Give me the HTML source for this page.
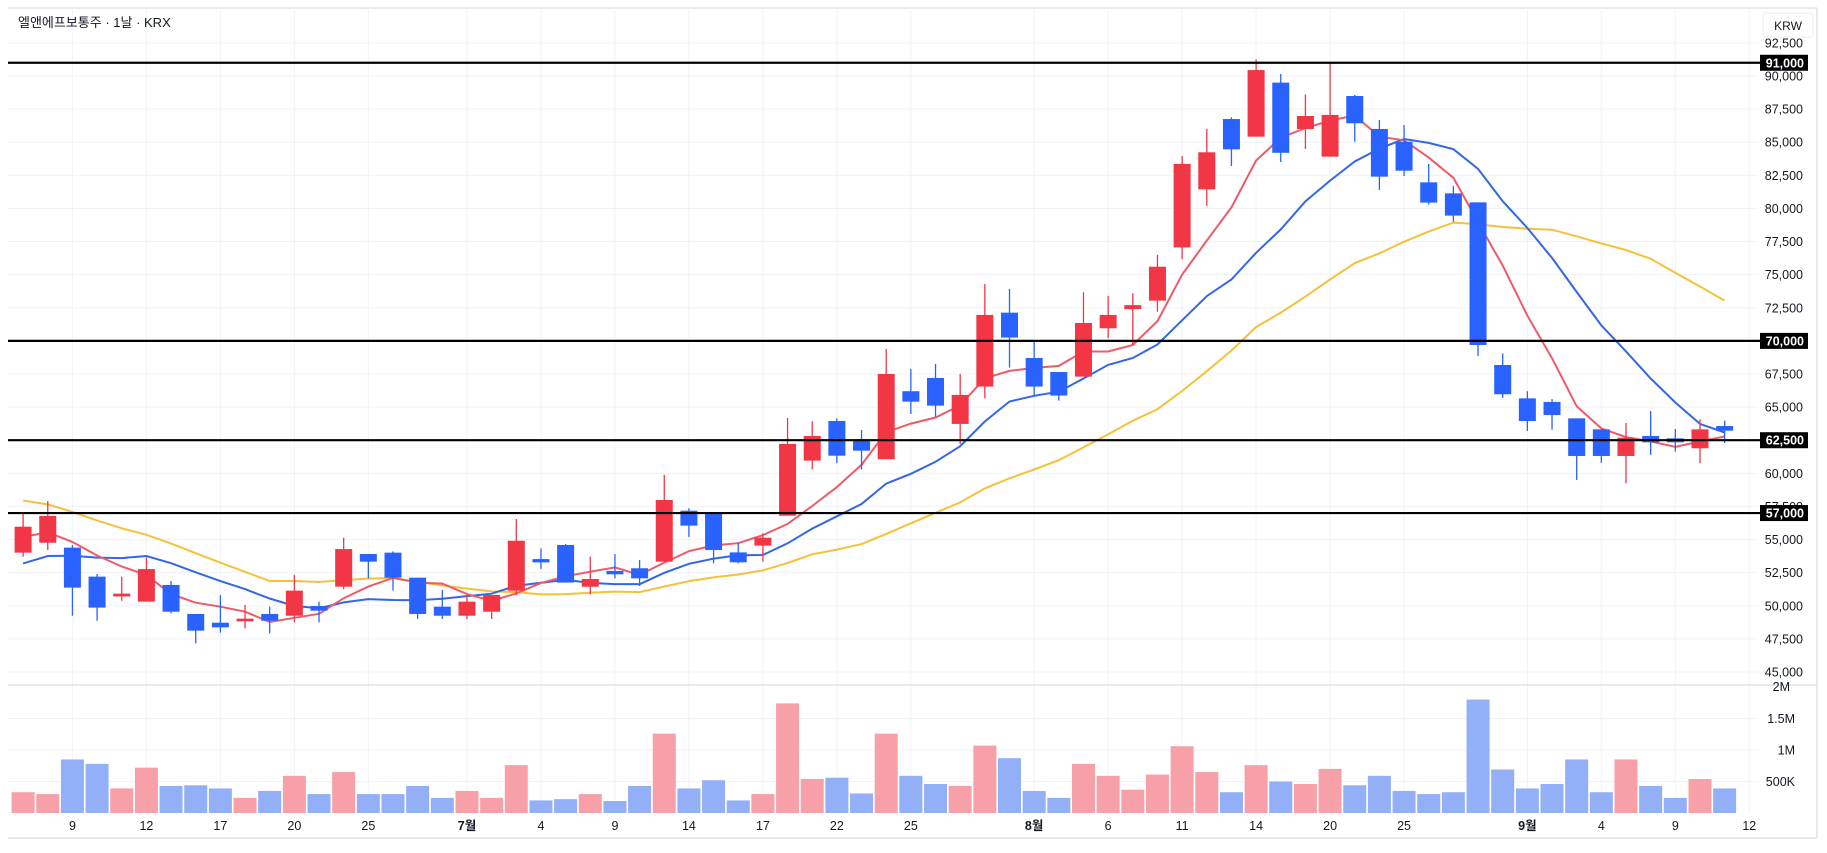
<!DOCTYPE html>
<html><head><meta charset="utf-8"><style>
html,body{margin:0;padding:0;background:#fff;}
svg{display:block;font-family:"Liberation Sans","Noto Sans CJK KR",sans-serif;}
</style></head><body>
<svg id="c" width="1827" height="853" xmlns="http://www.w3.org/2000/svg"></svg>
<script>
const D=[
[54.01,57.05,53.71,55.97],[54.76,57.91,54.21,56.78],[54.39,54.59,49.25,51.37],[52.2,52.4,48.87,49.86],[50.78,52.2,50.38,50.84],
[50.31,53.66,50.31,52.77],[51.57,51.87,49.43,49.55],[49.38,49.38,47.16,48.12],[48.72,50.81,47.97,48.37],[48.9,50.06,48.29,48.95],
[49.38,49.93,47.92,48.87],[49.25,52.32,48.75,51.14],[49.98,50.31,48.75,49.63],[51.44,55.14,51.24,54.28],[53.91,53.91,52.07,53.33],
[54.01,54.1,51.14,52.12],[52.12,52.12,49.0,49.38],[49.93,51.19,49.0,49.25],[49.25,50.81,49.0,50.31],[49.55,50.81,49.0,50.81],
[51.14,56.55,50.81,54.91],[53.45,54.33,52.77,53.35],[54.59,54.66,51.75,51.75],[51.44,53.71,50.86,52.02],[52.55,53.91,52.07,52.45],
[52.83,53.46,51.49,52.07],[53.33,59.88,53.33,57.99],[57.18,57.36,55.2,56.05],[56.98,56.98,53.2,54.21],[54.03,54.77,53.2,53.28],
[54.54,55.47,53.33,55.14],[56.8,64.18,56.8,62.22],[60.96,63.93,60.3,62.82],[63.95,64.15,60.76,61.33],[62.57,63.27,60.3,61.71],
[61.06,69.39,61.06,67.5],[66.2,67.88,64.48,65.41],[67.2,68.26,64.28,65.11],[63.73,67.5,62.22,65.92],[66.55,74.3,65.66,71.96],
[72.13,73.92,67.98,70.25],[68.71,69.99,65.92,66.55],[67.65,67.65,65.49,65.87],[67.3,73.67,67.3,71.35],[70.95,73.4,70.2,71.96],
[72.4,73.6,69.7,72.7],[73.04,76.5,72.2,75.6],[77.06,83.96,76.16,83.36],[81.44,86.0,80.2,84.24],[86.75,86.88,83.2,84.46],
[85.42,91.26,85.42,90.45],[89.5,90.15,83.5,84.2],[86.0,88.6,84.5,86.98],[83.91,91.08,83.91,87.06],[88.49,88.57,85.04,86.43],
[86.0,86.68,81.4,82.4],[85.04,86.3,82.45,82.85],[81.97,83.36,80.3,80.44],[81.14,81.7,79.0,79.46],[80.46,80.46,68.86,69.69],
[68.18,69.06,65.7,65.97],[65.66,66.2,63.2,63.95],[65.39,65.6,63.3,64.4],[64.15,64.15,59.5,61.31],[63.32,63.32,60.8,61.31],
[61.31,63.8,59.25,62.69],[62.82,64.7,61.4,62.34],[62.64,63.35,61.64,62.34],[61.89,64.08,60.76,63.32],[63.57,63.98,62.3,63.22]];
const V=[0.33,0.30,0.85,0.78,0.39,0.72,0.43,0.44,0.39,0.24,0.35,0.59,0.30,0.65,0.30,0.30,0.43,0.24,0.35,0.24,0.76,0.20,0.22,0.30,0.19,0.43,1.26,0.39,0.52,0.20,0.30,1.74,0.54,0.56,0.31,1.26,0.59,0.46,0.43,1.07,0.87,0.35,0.24,0.78,0.59,0.37,0.61,1.06,0.65,0.33,0.76,0.50,0.46,0.70,0.44,0.59,0.35,0.30,0.33,1.80,0.69,0.39,0.46,0.85,0.33,0.85,0.43,0.24,0.54,0.39];
const Y=p=>76+(90-p)*13.244, X=i=>23.1+i*24.66, VY=v=>813-v*63;
let s='';
const L=(x1,y1,x2,y2,c,w)=>s+=`<line x1="${x1}" y1="${y1}" x2="${x2}" y2="${y2}" stroke="${c}" stroke-width="${w}"/>`;
const T=(x,y,t,o)=>s+=`<text x="${x}" y="${y}" ${o||''}>${t}</text>`;
// frame
L(8,8,1817,8,'#e0e3eb',1.5);L(1817,8,1817,838,'#e0e3eb',1.5);L(8,838,1817,838,'#e0e3eb',1.5);
// grid
for(let p=45;p<=92.5;p+=2.5){L(8,Y(p),1758,Y(p),'#f0f3fa',1);}
[0.5,1,1.5].forEach(v=>L(8,VY(v),1758,VY(v),'#f0f3fa',1));
const lab=[[2,'9'],[5,'12'],[8,'17'],[11,'20'],[14,'25'],[18,'7월',1],[21,'4'],[24,'9'],[27,'14'],[30,'17'],[33,'22'],[36,'25'],[41,'8월',1],[44,'6'],[47,'11'],[50,'14'],[53,'20'],[56,'25'],[61,'9월',1],[64,'4'],[67,'9'],[70,'12']];
lab.forEach(l=>{L(X(l[0]),8,X(l[0]),813,'#f0f3fa',1);T(X(l[0]),830,l[1],`text-anchor="middle" font-size="12.5" fill="#131722" ${l[2]?'font-weight="bold"':''}`);});
L(8,685,1817,685,'#e0e3eb',1.5);
// volume
V.forEach((v,i)=>{const up=D[i][3]>=D[i][0];s+=`<rect x="${X(i)-11.5}" y="${VY(v)}" width="23" height="${813-VY(v)}" fill="${up?'#f7a0a8':'#93aff8'}"/>`;});
// MAs
const pre=[];for(let k=0;k<10;k++)pre.push(62.7);for(let k=0;k<5;k++)pre.push(51.2);for(let k=0;k<4;k++)pre.push(55);
const C=pre.concat(D.map(d=>d[3]));
function ma(n,col){let pts=[];for(let i=0;i<D.length;i++){let j=i+19,sum=0;for(let k=0;k<n;k++)sum+=C[j-k];pts.push(X(i).toFixed(1)+','+Y(sum/n).toFixed(1));}
s+=`<polyline points="${pts.join(' ')}" fill="none" stroke="${col}" stroke-width="2"/>`;}
ma(20,'#f6c13a');ma(10,'#3366e8');ma(5,'#ef5a68');
// candles
D.forEach((d,i)=>{const [o,h,l,c]=d,up=c>=o,col=up?'#f23645':'#2962ff',x=X(i);
L(x,Y(h),x,Y(l),col,1.3);let t=Y(Math.max(o,c)),b=Y(Math.min(o,c));if(b-t<2){t-=1;b+=1;}
s+=`<rect x="${x-8.5}" y="${t}" width="17" height="${b-t}" fill="${col}"/>`;});
// horizontal lines
[91,70,62.5,57].forEach(p=>{L(8,Y(p),1760,Y(p),'#000',2.2);});
// price labels
for(let p=45;p<=92.5;p+=2.5){const t=(p*1000).toLocaleString('en-US');T(1803,Y(p)+4.5,t,'text-anchor="end" font-size="12.5" fill="#131722"');}
[91,70,62.5,57].forEach(p=>{s+=`<rect x="1760" y="${Y(p)-8}" width="48" height="16" fill="#000"/>`;T(1804,Y(p)+4.5,(p*1000).toLocaleString('en-US'),'text-anchor="end" font-size="12.5" font-weight="bold" fill="#fff"');});
// volume labels
s+=`<rect x="1760" y="686" width="55" height="8" fill="#fff"/>`;
T(1790,691,'2M','text-anchor="end" font-size="12.5" fill="#131722"');
[[1.5,'1.5M'],[1,'1M'],[0.5,'500K']].forEach(a=>T(1795,VY(a[0])+4.5,a[1],'text-anchor="end" font-size="12.5" fill="#131722"'));
// KRW box
s+=`<rect x="1763" y="13" width="50" height="24" rx="3" fill="#fff" stroke="#eceef2"/>`;T(1788,30,'KRW','text-anchor="middle" font-size="12" fill="#131722"');
// title
T(18,27,'엘앤에프보통주 · 1날 · KRX','font-size="13" fill="#131722"');
document.getElementById('c').innerHTML=s;
</script>
</body></html>
